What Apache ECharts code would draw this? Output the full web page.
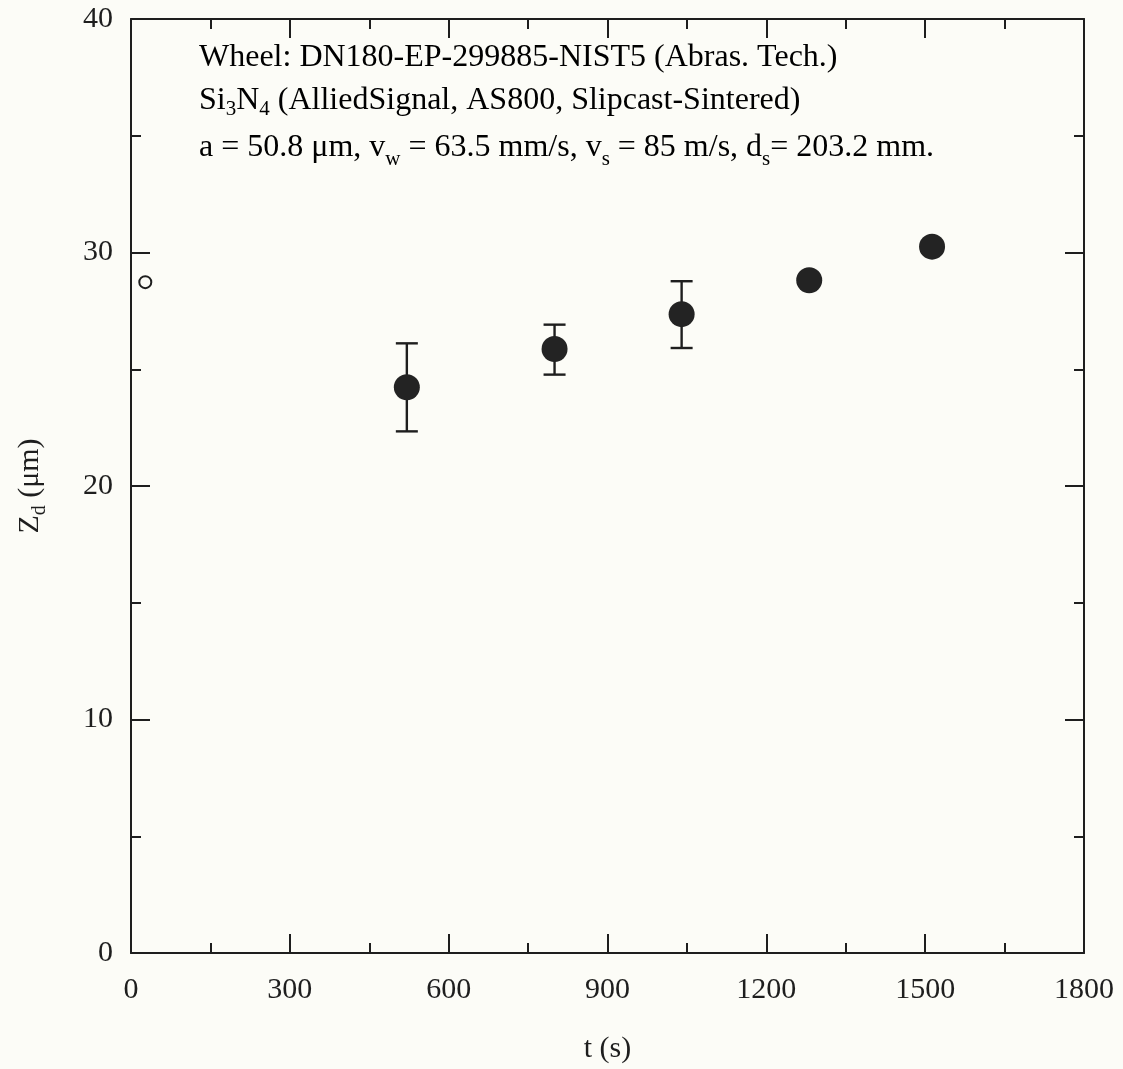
<!DOCTYPE html>
<html>
<head>
<meta charset="utf-8">
<script src="https://cdn.jsdelivr.net/npm/echarts@6/dist/echarts.min.js"></script>
<style>
  html, body { margin: 0; padding: 0; background: #fcfcf7; }
  #chart { width: 1123px; height: 1069px; }
</style>
</head>
<body>
<div id="chart"></div>
<script>
// Grinding depth Z_d versus time t
const timeFilled = [521, 800, 1040, 1281, 1513];
const depthMean  = [24.23, 25.87, 27.36, 28.81, 30.25];
const depthLow   = [22.34, 24.77, 25.91, null, null];
const depthHigh  = [26.11, 26.91, 28.77, null, null];

const timeOpen  = [27];
const depthOpen = [28.73];

const xRange = [0, 1800];
const xStep = 300;
const yRange = [0, 40];
const yStep = 10;

const FONT = "'Liberation Serif', 'Times New Roman', serif";
const INK = '#1e1e1e';
const BG = '#fcfcf7';

const chart = echarts.init(document.getElementById('chart'), null, { renderer: 'canvas' });

const axisLine = { show: true, onZero: false, lineStyle: { color: INK, width: 2 } };
const majorTick = { show: true, inside: true, length: 19, lineStyle: { color: INK, width: 2 } };
const minorTick = { show: true, splitNumber: 2, length: 10, lineStyle: { color: INK, width: 2 } };
const plainNumber = v => String(v);

function xAxisDef(pos, withLabels) {
  return {
    type: 'value', position: pos, min: xRange[0], max: xRange[1], interval: xStep,
    axisLine, axisTick: majorTick, minorTick,
    splitLine: { show: false }, minorSplitLine: { show: false },
    axisLabel: { show: withLabels, color: INK, fontFamily: FONT, fontSize: 30, margin: 22, formatter: plainNumber },
    name: withLabels ? 't (s)' : '', nameLocation: 'middle', nameGap: 81,
    nameTextStyle: { color: INK, fontFamily: FONT, fontSize: 30 }
  };
}
function yAxisDef(pos, withLabels) {
  return {
    type: 'value', position: pos, min: yRange[0], max: yRange[1], interval: yStep,
    axisLine, axisTick: majorTick, minorTick,
    splitLine: { show: false }, minorSplitLine: { show: false },
    axisLabel: { show: withLabels, color: INK, fontFamily: FONT, fontSize: 30, margin: 18, formatter: plainNumber },
    name: withLabels ? '{m|Z}{sub|d}{m| (\u03bcm)}' : '', nameLocation: 'middle', nameGap: 84,
    nameTextStyle: {
      color: INK, fontFamily: FONT, fontSize: 30,
      rich: {
        m: { fontFamily: FONT, fontSize: 30, color: INK, lineHeight: 34 },
        sub: { fontFamily: FONT, fontSize: 20, color: INK, padding: [20, 0, 0, 0], lineHeight: 22 }
      }
    }
  };
}

// error bars drawn through the axis scales
const errData = timeFilled
  .map((t, i) => [t, depthLow[i], depthHigh[i]])
  .filter(d => d[1] != null && d[2] != null);

function renderErrorBar(params, api) {
  const t = api.value(0);
  const lo = api.coord([t, api.value(1)]);
  const hi = api.coord([t, api.value(2)]);
  const half = 11;
  const style = { stroke: INK, lineWidth: 2.4 };
  return {
    type: 'group',
    children: [
      { type: 'line', shape: { x1: hi[0], y1: hi[1], x2: lo[0], y2: lo[1] }, style },
      { type: 'line', shape: { x1: hi[0] - half, y1: hi[1], x2: hi[0] + half, y2: hi[1] }, style },
      { type: 'line', shape: { x1: lo[0] - half, y1: lo[1], x2: lo[0] + half, y2: lo[1] }, style }
    ]
  };
}

const richText = {
  m: { fontFamily: FONT, fontSize: 32, color: INK, lineHeight: 36 },
  s1: { fontFamily: FONT, fontSize: 21, color: INK, padding: [17, 0, 0, 0], lineHeight: 22 },
  s2: { fontFamily: FONT, fontSize: 21, color: INK, padding: [24, 0, 0, 0], lineHeight: 22 }
};

const option = {
  backgroundColor: BG,
  animation: false,
  grid: { left: 131, right: 39, top: 19, bottom: 113, containLabel: false },
  xAxis: [xAxisDef('bottom', true), xAxisDef('top', false)],
  yAxis: [yAxisDef('left', true), yAxisDef('right', false)],
  series: [
    {
      type: 'custom', xAxisIndex: 0, yAxisIndex: 0,
      renderItem: renderErrorBar, data: errData, z: 2, silent: true
    },
    {
      type: 'scatter', xAxisIndex: 0, yAxisIndex: 0,
      data: timeFilled.map((t, i) => [t, depthMean[i]]),
      symbol: 'circle', symbolSize: 26,
      itemStyle: { color: '#232323', opacity: 1 }, z: 3, silent: true
    },
    {
      type: 'scatter', xAxisIndex: 0, yAxisIndex: 0,
      data: timeOpen.map((t, i) => [t, depthOpen[i]]),
      symbol: 'circle', symbolSize: 12,
      itemStyle: { color: BG, borderColor: INK, borderWidth: 2, opacity: 1 }, z: 3, silent: true
    }
  ],
  graphic: [
    {
      type: 'text', left: 199, top: 42,
      style: { text: '{m|Wheel: DN180-EP-299885-NIST5 (Abras. Tech.)}', rich: richText }
    },
    {
      type: 'text', left: 199, top: 82,
      style: { text: '{m|Si}{s1|3}{m|N}{s1|4}{m| (AlliedSignal, AS800, Slipcast-Sintered)}', rich: richText }
    },
    {
      type: 'text', left: 199, top: 125,
      style: {
        text: '{m|a = 50.8 \u03bcm, v}{s2|w}{m| = 63.5 mm/s, v}{s2|s}{m| = 85 m/s, d}{s2|s}{m|= 203.2 mm.}',
        rich: richText
      }
    }
  ]
};

chart.setOption(option);
</script>
</body>
</html>
